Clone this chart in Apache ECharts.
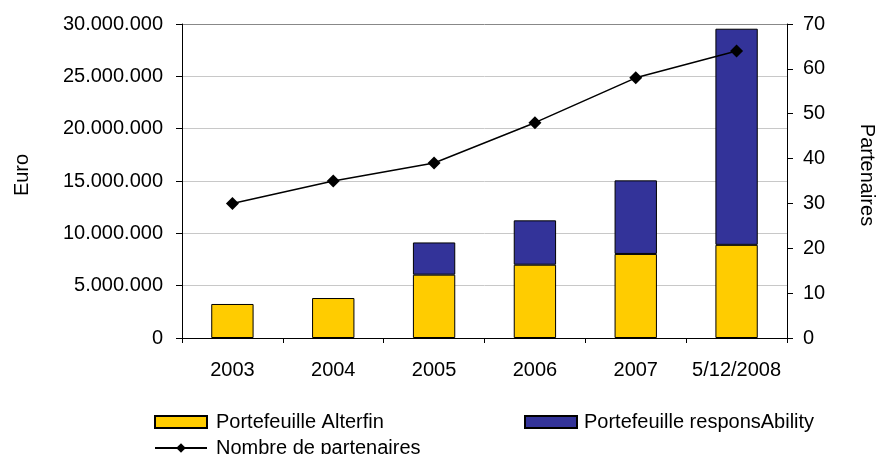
<!DOCTYPE html>
<html>
<head>
<meta charset="utf-8">
<script src="https://cdn.jsdelivr.net/npm/echarts@6/dist/echarts.min.js"></script>
<style>
  html, body { margin: 0; padding: 0; background: #fff; }
  #main { width: 877px; height: 454px; }
</style>
</head>
<body>
<div id="main"></div>
<script>
// données
var categories = ['2003', '2004', '2005', '2006', '2007', '5/12/2008'];
var alterfin = [3250000, 3820000, 6050000, 7000000, 8030000, 8900000];
var responsAbility = [null, null, 3080000, 4240000, 7030000, 20650000];
var partenaires = [30, 35, 39, 48, 58, 64];

function formatEuro(v) {
    return String(v).replace(/\B(?=(\d{3})+(?!\d))/g, '.');
}

function AlterfinChart() {
    var myChart = echarts.init(document.getElementById('main'));
    var font = 'Liberation Sans, Arial, sans-serif';
    var option = {
        animation: false,
        textStyle: { fontFamily: font, color: '#000' },
        grid: { left: 182, right: 90, top: 24, height: 314, outerBoundsMode: 'none' },
        legend: [
            {
                left: 149, top: 407, itemWidth: 52, itemHeight: 12,
                icon: 'rect',
                data: ['Portefeuille Alterfin'],
                textStyle: { fontFamily: font, fontSize: 20, color: '#000', padding: [0, 0, 0, 4] }
            },
            {
                left: 519, top: 407, itemWidth: 52, itemHeight: 12,
                icon: 'rect',
                data: ['Portefeuille responsAbility'],
                textStyle: { fontFamily: font, fontSize: 20, color: '#000', padding: [0, 0, 0, 2] }
            },
            {
                left: 149, top: 433, itemWidth: 52, itemHeight: 12,
                data: ['Nombre de partenaires'],
                textStyle: { fontFamily: font, fontSize: 20, color: '#000', padding: [0, 0, 0, 4] }
            }
        ],
        xAxis: {
            type: 'category',
            data: categories,
            boundaryGap: true,
            axisLine: { lineStyle: { color: '#000', width: 1 } },
            axisTick: { show: true, length: 5, lineStyle: { color: '#000' } },
            axisLabel: { interval: 0, fontSize: 20, color: '#000', margin: 22, fontFamily: font }
        },
        yAxis: [
            {
                type: 'value',
                min: 0, max: 30000000, interval: 5000000,
                name: 'Euro',
                nameLocation: 'middle',
                nameGap: 150,
                nameRotate: 90,
                nameTextStyle: { fontFamily: font, fontSize: 20, color: '#000', padding: [0, 0, 0, 12] },
                axisLine: { show: true, lineStyle: { color: '#000' } },
                axisTick: { show: true, length: 6, lineStyle: { color: '#000' } },
                axisLabel: { fontSize: 20, color: '#000', margin: 19, fontFamily: font, formatter: formatEuro },
                splitLine: {
                    show: true,
                    lineStyle: { color: ['#c8c8c8', '#c8c8c8', '#c8c8c8', '#c8c8c8', '#c8c8c8', '#c8c8c8', '#888888'], width: 1 }
                }
            },
            {
                type: 'value',
                min: 0, max: 70, interval: 10,
                name: 'Partenaires',
                nameLocation: 'middle',
                nameGap: 70,
                nameRotate: -90,
                nameTextStyle: { fontFamily: font, fontSize: 20, color: '#000', padding: [0, 12, 0, 0] },
                axisLine: { show: true, lineStyle: { color: '#000' } },
                axisTick: { show: true, length: 6, lineStyle: { color: '#000' } },
                axisLabel: { fontSize: 20, color: '#000', margin: 16, fontFamily: font },
                splitLine: { show: false }
            }
        ],
        series: [
            {
                name: 'Portefeuille Alterfin',
                type: 'bar',
                stack: 'euro',
                barWidth: '42%',
                data: alterfin,
                itemStyle: { color: '#FFCC00', borderColor: '#000', borderWidth: 1 }
            },
            {
                name: 'Portefeuille responsAbility',
                type: 'bar',
                stack: 'euro',
                barWidth: '42%',
                data: responsAbility,
                itemStyle: { color: '#333399', borderColor: '#000', borderWidth: 1 }
            },
            {
                name: 'Nombre de partenaires',
                type: 'line',
                yAxisIndex: 1,
                data: partenaires,
                symbol: 'diamond',
                symbolSize: 13,
                lineStyle: { color: '#000', width: 1.5 },
                itemStyle: { color: '#000' }
            }
        ]
    };
    myChart.setOption(option, true);
    return myChart;
}

window.onload = function () {
    alterfinChart = AlterfinChart();
};
</script>
</body>
</html>
